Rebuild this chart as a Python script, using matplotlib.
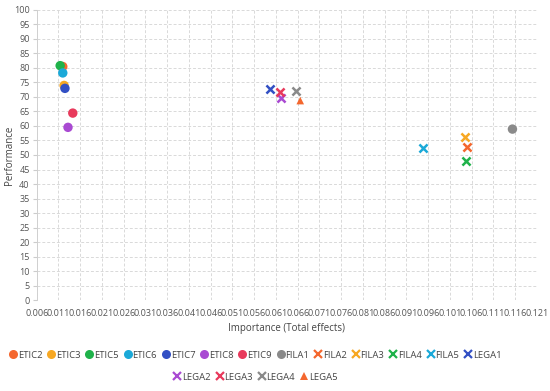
import matplotlib
matplotlib.use("Agg")
import matplotlib.pyplot as plt
from matplotlib.lines import Line2D

plt.rcParams['font.family'] = ['Open Sans', 'DejaVu Sans']

names = ["ETIC2", "ETIC3", "ETIC5", "ETIC6", "ETIC7", "ETIC8", "ETIC9", "FILA1",
         "FILA2", "FILA3", "FILA4", "FILA5", "LEGA1", "LEGA2", "LEGA3", "LEGA4", "LEGA5"]
importance = [0.0120, 0.0123, 0.0114, 0.0120, 0.0125, 0.0132, 0.0143, 0.1154,
              0.1050, 0.1045, 0.1047, 0.0949, 0.0597, 0.0622, 0.0620, 0.0656, 0.0666]
performance = [80.4, 73.9, 80.7, 78.2, 72.9, 59.5, 64.4, 58.9,
               52.6, 56.1, 48.0, 52.5, 72.6, 69.5, 71.6, 71.9, 68.7]
markers = ["o"] * 8 + ["x"] * 8 + ["^"]
palette = ["#F4672E", "#F7A823", "#1FB24A", "#1BA9D8", "#3350C4", "#A94AD2", "#E83A5C", "#8A8A8A"]
colors = [palette[i % 8] for i in range(len(names))]

xticks = [round(0.006 + 0.005 * i, 3) for i in range(24)]
yticks = list(range(0, 101, 5))

fig = plt.figure(figsize=(5.5, 3.91), dpi=100)
ax = fig.add_axes([0.0667, 0.2315, 0.9093, 0.7442])

for n, xv, yv, m, c in zip(names, importance, performance, markers, colors):
    if m == "x":
        ax.scatter(xv, yv, marker="x", s=34, color=c, linewidths=1.8, zorder=3)
    elif m == "^":
        ax.scatter(xv, yv, marker="^", s=30, color=c, zorder=3, edgecolors="none")
    else:
        ax.scatter(xv, yv, marker="o", s=46, color=c, zorder=3, edgecolors="none")

ax.set_xlim(0.006, 0.121)
ax.set_ylim(0, 100)
ax.set_xticks(xticks)
ax.set_xticklabels([f"{t:.3f}" for t in xticks], fontsize=6.5, color="#555555")
ax.set_yticks(yticks)
ax.set_yticklabels([str(t) for t in yticks], fontsize=6.5, color="#555555")
ax.tick_params(axis="x", length=0, pad=6)
ax.tick_params(axis="y", length=3, color="#cccccc", pad=2)
ax.grid(True, color="#d9d9d9", linestyle=(0, (3, 2)), linewidth=0.7)
ax.set_axisbelow(True)
for s in ["top", "right", "bottom"]:
    ax.spines[s].set_visible(False)
ax.spines["left"].set_color("#d0d0d0")
ax.spines["left"].set_linewidth(0.7)
ax.set_xlabel("Importance (Total effects)", fontsize=7, color="#444444", labelpad=4)
ax.set_ylabel("Performance", fontsize=7, color="#444444")
ax.yaxis.set_label_coords(-0.044, 0.5)

def handle(m, c):
    if m == "x":
        return Line2D([], [], marker="x", color=c, linestyle="none", markersize=6, markeredgewidth=1.6)
    if m == "^":
        return Line2D([], [], marker="^", color=c, linestyle="none", markersize=6, markeredgewidth=0)
    return Line2D([], [], marker="o", color=c, linestyle="none", markersize=6.5, markeredgewidth=0)

handles = [handle(m, c) for m, c in zip(markers, colors)]
leg_kw = dict(frameon=False, fontsize=6.8, handletextpad=0.0, columnspacing=0.45,
              handlelength=1.0, borderpad=0, labelcolor="#444444")
leg1 = fig.legend(handles[:13], names[:13], ncol=13, loc="center",
                  bbox_to_anchor=(255 / 550, 1 - 355 / 391), **leg_kw)
leg2 = fig.legend(handles[13:], names[13:], ncol=4, loc="center",
                  bbox_to_anchor=(255 / 550, 1 - 377 / 391), **leg_kw)

fig.savefig("out.png", dpi=100)
